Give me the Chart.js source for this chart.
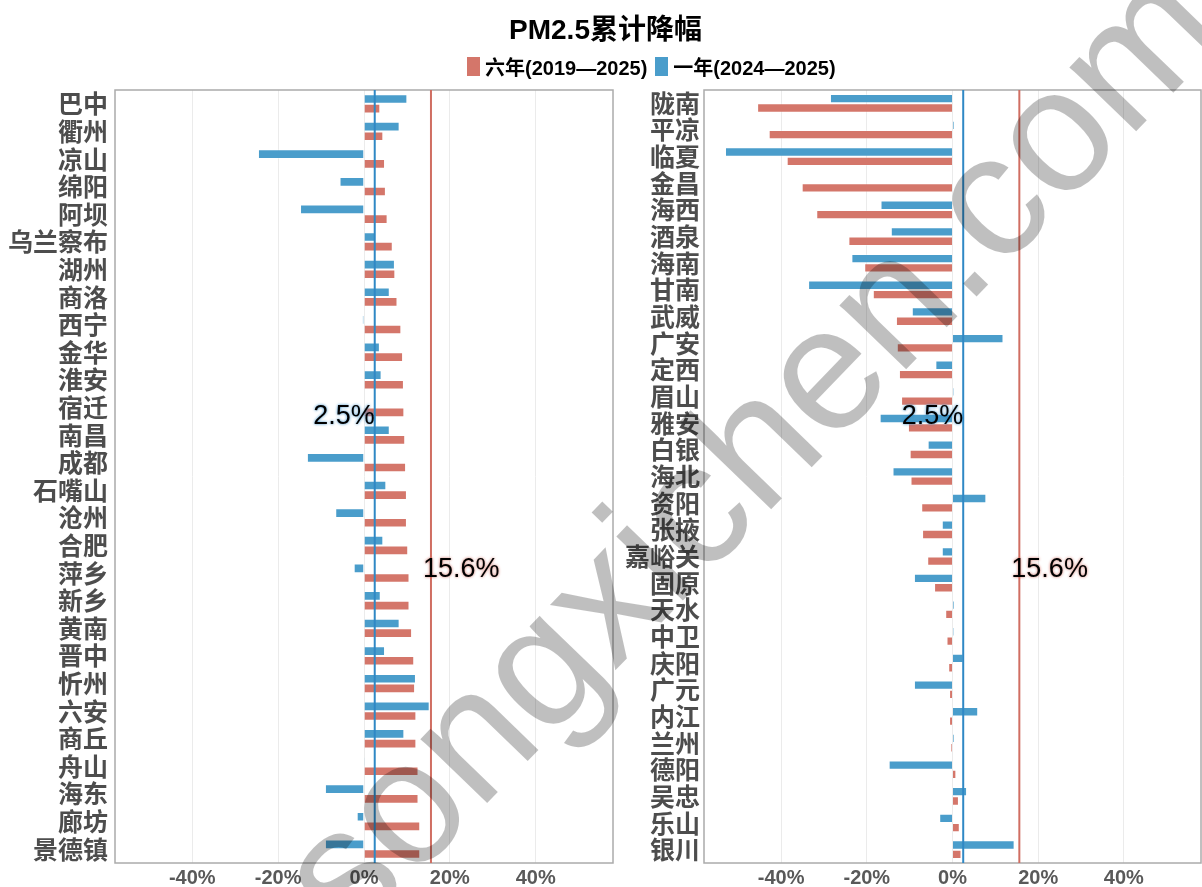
<!DOCTYPE html>
<html lang="zh">
<head>
<meta charset="utf-8">
<title>PM2.5累计降幅</title>
<script src="https://cdn.jsdelivr.net/npm/chart.js@4.4.1/dist/chart.umd.min.js"></script>
<style>
  html, body { margin: 0; padding: 0; background: #fff; }
  #page { position: relative; width: 1202px; height: 887px; overflow: hidden; }
  canvas { position: absolute; top: 0; }
  #left-chart  { left: 0; }
  #right-chart { left: 614px; }
  #title {
    position: absolute; left: 0; top: 7px; width: 1211px;
    text-align: center; line-height: 34px;
    font: bold 28px "Liberation Sans", "Noto Sans CJK SC", sans-serif; color: #000;
  }
  #legend {
    position: absolute; left: 467px; top: 54px; height: 24px;
    display: flex; align-items: center;
    font: bold 20px "Liberation Sans", "Noto Sans CJK SC", sans-serif; color: #000;
  }
  #legend .item { display: flex; align-items: center; margin-right: 8px; }
  #legend .swatch { width: 13px; height: 19px; margin-right: 5px; }
  #watermark {
    position: absolute; left: 244px; top: 842px;
    transform: rotate(-46deg); transform-origin: 0 0;
    font: 175px "Liberation Sans", sans-serif; line-height: 1;
    color: rgba(0, 0, 0, 0.25); white-space: nowrap; pointer-events: none;
  }
</style>
</head>
<body>
<div id="page">
  <canvas id="left-chart" width="614" height="887"></canvas>
  <canvas id="right-chart" width="588" height="887"></canvas>
  <div id="title">PM2.5累计降幅</div>
  <div id="legend"></div>
  <div id="watermark">songxichen.com</div>
</div>

<script>
// ------------------------------------------------------------------
// Data (percent decline of PM2.5)
// ------------------------------------------------------------------

const leftCities = [
  "巴中", "衢州", "凉山", "绵阳", "阿坝", "乌兰察布", "湖州", "商洛", "西宁", "金华",
  "淮安", "宿迁", "南昌", "成都", "石嘴山", "沧州", "合肥", "萍乡", "新乡", "黄南",
  "晋中", "忻州", "六安", "商丘", "舟山", "海东", "廊坊", "景德镇",
];
const leftSixYear = [
  3.8, 4.5, 4.9, 5.1, 5.5, 6.7, 7.3, 7.8, 8.7, 9.1,
  9.3, 9.4, 9.6, 9.8, 10.0, 10.0, 10.3, 10.6, 10.6, 11.2,
  11.7, 11.9, 12.2, 12.2, 12.7, 12.7, 13.1, 13.1,
];
const leftOneYear = [
  10.1, 8.3, -24.7, -5.7, -14.9, 2.8, 7.2, 6.0, -0.4, 3.7,
  4.1, 0.0, 6.0, -13.3, 5.2, -6.7, 4.5, -2.4, 3.9, 8.3,
  4.9, 12.1, 15.3, 9.4, 0.2, -9.1, -1.7, -9.1,
];

const rightCities = [
  "陇南", "平凉", "临夏", "金昌", "海西", "酒泉", "海南", "甘南", "武威", "广安",
  "定西", "眉山", "雅安", "白银", "海北", "资阳", "张掖", "嘉峪关", "固原", "天水",
  "中卫", "庆阳", "广元", "内江", "兰州", "德阳", "吴忠", "乐山", "银川",
];
const rightSixYear = [
  -45.6, -42.9, -38.7, -35.2, -31.8, -24.3, -20.6, -18.6, -13.2, -13.0,
  -12.5, -12.0, -10.4, -10.0, -9.8, -7.3, -7.1, -5.9, -4.3, -1.7,
  -1.4, -1.0, -0.8, -0.8, -0.4, 0.9, 1.5, 1.7, 2.1,
];
const rightOneYear = [
  -28.6, 0.4, -53.1, 0.1, -16.8, -14.4, -23.6, -33.7, -9.5, 11.9,
  -4.0, 0.3, -17.0, -5.8, -14.0, 7.9, -2.5, -2.5, -9.0, 0.4,
  0.3, 2.6, -9.0, 6.0, 0.4, -14.9, 3.4, -3.1, 14.5,
];

const seriesNames = ["六年(2019—2025)", "一年(2024—2025)"];
const tickValues = [-40, -20, 0, 20, 40];
const avgSixYear = 15.6;   // national average, six years
const avgOneYear = 2.5;    // national average, one year

// ------------------------------------------------------------------
// Styling
// ------------------------------------------------------------------

const RED = "#d4766a";
const BLUE = "#4a9dcb";
const RED_LINE = "#d06e62";
const BLUE_LINE = "#2f88c5";
const AXIS_MIN = -58;
const AXIS_MAX = 58;
const CJK = "'Noto Sans CJK SC', sans-serif";
const LATIN = "'Liberation Sans', Arial, sans-serif";

// Legend (shared by both panels, in the page header)
document.getElementById("legend").innerHTML = [
  [seriesNames[0], RED],
  [seriesNames[1], BLUE],
].map(([name, color]) =>
  `<span class="item"><span class="swatch" style="background:${color}"></span>${name}</span>`
).join("");

// Frame, national-average lines and their labels
const refLines = {
  id: "refLines",
  afterDatasetsDraw(chart, args, opts) {
    const { ctx, chartArea: a, scales: { x } } = chart;
    ctx.save();
    ctx.strokeStyle = "#ababab";
    ctx.lineWidth = 1.5;
    ctx.strokeRect(a.left, a.top, a.right - a.left, a.bottom - a.top);

    for (const line of opts.lines) {
      const px = x.getPixelForValue(line.value);
      ctx.strokeStyle = line.color;
      ctx.lineWidth = 2;
      ctx.beginPath();
      ctx.moveTo(px, a.top);
      ctx.lineTo(px, a.bottom);
      ctx.stroke();
    }

    ctx.font = `27px ${LATIN}`;
    ctx.textBaseline = "alphabetic";
    for (const line of opts.lines) {
      const px = x.getPixelForValue(line.value);
      const py = a.top + line.yFrac * (a.bottom - a.top);
      ctx.textAlign = line.align;
      ctx.shadowColor = line.color;
      ctx.shadowBlur = 3;
      ctx.fillStyle = "#000";
      ctx.fillText(line.text, px + line.dx, py);
    }
    ctx.restore();
  },
};

function makeChart(canvasId, cities, sixYear, oneYear, axisWidth, labelPad) {
  const ctx = document.getElementById(canvasId).getContext("2d");
  return new Chart(ctx, {
    type: "bar",
    data: {
      labels: cities,
      // one-year bar sits above the six-year bar in every row
      datasets: [
        {
          label: seriesNames[1], data: oneYear,
          backgroundColor: BLUE, borderColor: "rgba(255,255,255,0.35)", borderWidth: 1,
        },
        {
          label: seriesNames[0], data: sixYear,
          backgroundColor: RED, borderColor: "rgba(255,255,255,0.35)", borderWidth: 1,
        },
      ],
    },
    options: {
      indexAxis: "y",
      responsive: false,
      animation: false,
      devicePixelRatio: 1,
      layout: { padding: { top: 90, right: 1, left: 0, bottom: 0 } },
      datasets: { bar: { categoryPercentage: 0.7, barPercentage: 1.0 } },
      plugins: {
        legend: { display: false },
        tooltip: { enabled: false },
        refLines: {
          lines: [
            { value: avgOneYear, color: BLUE_LINE, text: avgOneYear + "%", align: "right", dx: 0, yFrac: 0.432 },
            { value: avgSixYear, color: RED_LINE, text: avgSixYear + "%", align: "left", dx: -8, yFrac: 0.630 },
          ],
        },
      },
      scales: {
        x: {
          min: AXIS_MIN,
          max: AXIS_MAX,
          afterBuildTicks: (s) => { s.ticks = tickValues.map(v => ({ value: v })); },
          afterFit: (s) => { s.height = 24; },
          grid: { color: "#ebebeb", lineWidth: 1, drawTicks: false },
          border: { display: false },
          ticks: {
            padding: 3,
            color: "#595959",
            font: { family: LATIN, size: 20, weight: "bold" },
            callback: (v) => v + "%",
          },
        },
        y: {
          afterFit: (s) => { s.width = axisWidth; },
          grid: { display: false, drawTicks: false },
          border: { display: false },
          ticks: {
            autoSkip: false,
            padding: labelPad,
            color: "#4d4d4d",
            font: { family: CJK, size: 25, weight: "bold" },
          },
        },
      },
    },
    plugins: [refLines],
  });
}

makeChart("left-chart", leftCities, leftSixYear, leftOneYear, 115, 7);
makeChart("right-chart", rightCities, rightSixYear, rightOneYear, 90, 4);
</script>
</body>
</html>
